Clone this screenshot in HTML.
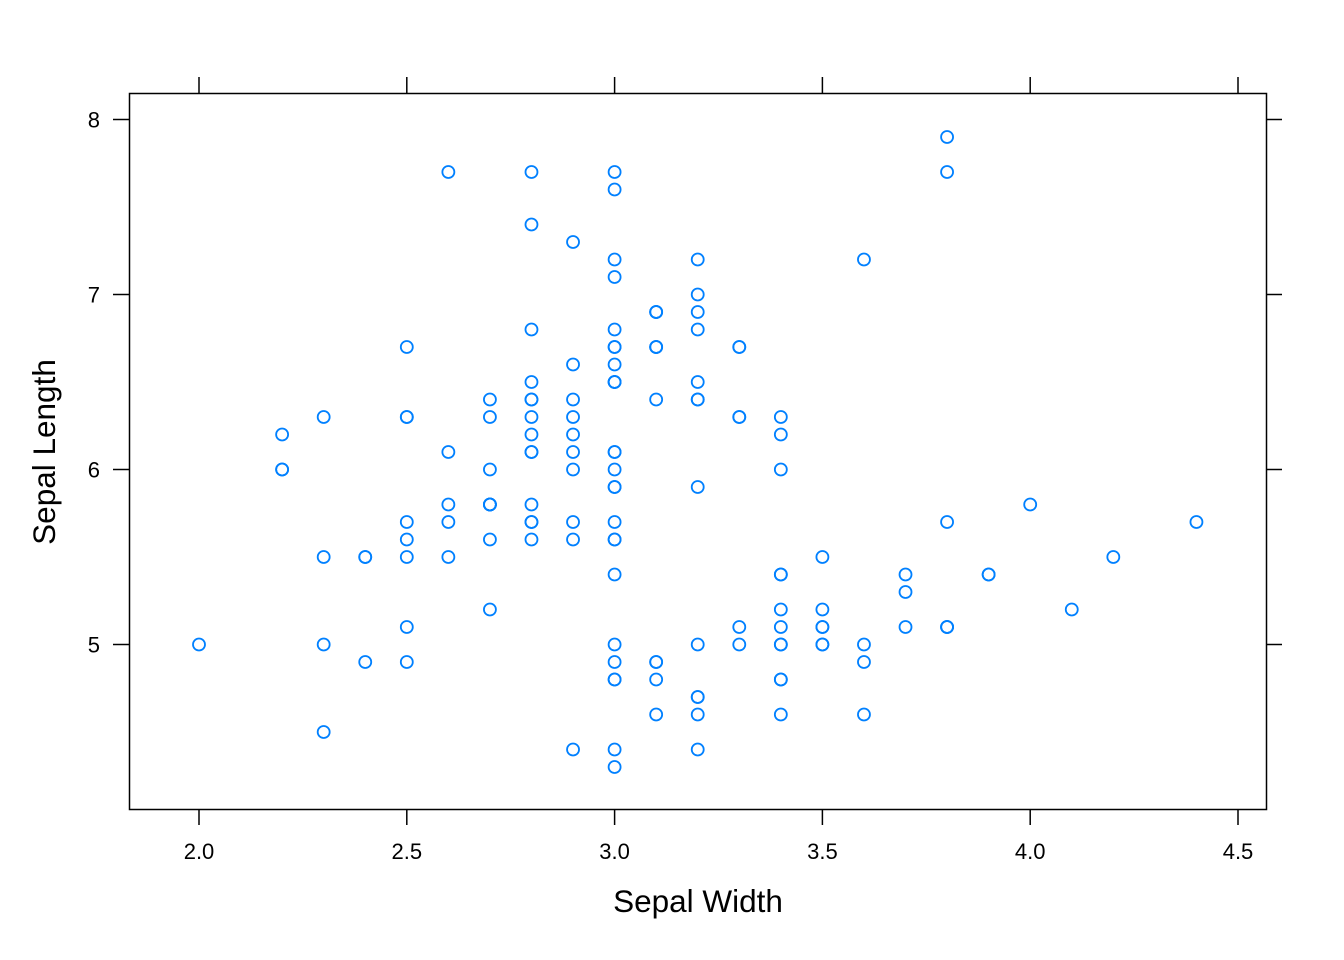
<!DOCTYPE html>
<html><head><meta charset="utf-8"><style>
html,body{margin:0;padding:0;background:#fff}
svg{display:block;font-family:"Liberation Sans",Arial,sans-serif}
</style></head><body>
<svg id="chart" width="1344" height="960" viewBox="0 0 1344 960">
<rect x="129.5" y="93.5" width="1137" height="716" fill="none" stroke="#000" stroke-width="1.5"/>
<g id="axes"></g>
<g id="points"></g>
<text x="698" y="912" font-size="31.5" text-anchor="middle">Sepal Width</text>
<text transform="translate(55,452) rotate(-90)" font-size="31.5" text-anchor="middle">Sepal Length</text>
</svg>
<script>
const sepalWidth=[3.5,3.0,3.2,3.1,3.6,3.9,3.4,3.4,2.9,3.1,3.7,3.4,3.0,3.0,4.0,4.4,3.9,3.5,3.8,3.8,3.4,3.7,3.6,3.3,3.4,3.0,3.4,3.5,3.4,3.2,3.1,3.4,4.1,4.2,3.1,3.2,3.5,3.6,3.0,3.4,3.5,2.3,3.2,3.5,3.8,3.0,3.8,3.2,3.7,3.3,
3.2,3.2,3.1,2.3,2.8,2.8,3.3,2.4,2.9,2.7,2.0,3.0,2.2,2.9,2.9,3.1,3.0,2.7,2.2,2.5,3.2,2.8,2.5,2.8,2.9,3.0,2.8,3.0,2.9,2.6,2.4,2.4,2.7,2.7,3.0,3.4,3.1,2.3,3.0,2.5,2.6,3.0,2.6,2.3,2.7,3.0,2.9,2.9,2.5,2.8,
3.3,2.7,3.0,2.9,3.0,3.0,2.5,2.9,2.5,3.6,3.2,2.7,3.0,2.5,2.8,3.2,3.0,3.8,2.6,2.2,3.2,2.8,2.8,2.7,3.3,3.2,2.8,3.0,2.8,3.0,2.8,3.8,2.8,2.8,2.6,3.0,3.4,3.1,3.0,3.1,3.1,3.1,2.7,3.2,3.3,3.0,2.5,3.0,3.4,3.0];
const sepalLength=[5.1,4.9,4.7,4.6,5.0,5.4,4.6,5.0,4.4,4.9,5.4,4.8,4.8,4.3,5.8,5.7,5.4,5.1,5.7,5.1,5.4,5.1,4.6,5.1,4.8,5.0,5.0,5.2,5.2,4.7,4.8,5.4,5.2,5.5,4.9,5.0,5.5,4.9,4.4,5.1,5.0,4.5,4.4,5.0,5.1,4.8,5.1,4.6,5.3,5.0,
7.0,6.4,6.9,5.5,6.5,5.7,6.3,4.9,6.6,5.2,5.0,5.9,6.0,6.1,5.6,6.7,5.6,5.8,6.2,5.6,5.9,6.1,6.3,6.1,6.4,6.6,6.8,6.7,6.0,5.7,5.5,5.5,5.8,6.0,5.4,6.0,6.7,6.3,5.6,5.5,5.5,6.1,5.8,5.0,5.6,5.7,5.7,6.2,5.1,5.7,
6.3,5.8,7.1,6.3,6.5,7.6,4.9,7.3,6.7,7.2,6.5,6.4,6.8,5.7,5.8,6.4,6.5,7.7,7.7,6.0,6.9,5.6,7.7,6.3,6.7,7.2,6.2,6.1,6.4,7.2,7.4,7.9,6.4,6.3,6.1,7.7,6.3,6.4,6.0,6.9,6.7,6.9,5.8,6.8,6.7,6.7,6.3,6.5,6.2,5.9];
const xTicks=[2.0,2.5,3.0,3.5,4.0,4.5];
const xTickLabels=["2.0","2.5","3.0","3.5","4.0","4.5"];
const yTicks=[5,6,7,8];
const yTickLabels=["5","6","7","8"];
const NS="http://www.w3.org/2000/svg";
function xs(v){return 199+(v-2.0)*415.6;}
function ys(v){return 644.5-(v-5)*175;}
function mk(tag,attrs,parent){const e=document.createElementNS(NS,tag);for(const k in attrs)e.setAttribute(k,attrs[k]);parent.appendChild(e);return e;}
const axes=document.getElementById('axes');
xTicks.forEach((t,i)=>{
  const x=xs(t);
  const a=mk('line',{x1:x,x2:x,y1:77,y2:93,stroke:'#000','stroke-width':1.5},axes);
  
  
  const b=mk('line',{x1:x,x2:x,y1:809,y2:825,stroke:'#000','stroke-width':1.5},axes);
  
  
  const l=mk('text',{x:x,y:859,'font-size':22,'text-anchor':'middle'},axes);
  l.textContent=xTickLabels[i];
  
  
});
yTicks.forEach((t,i)=>{
  const y=ys(t);
  const a=mk('line',{x1:113,x2:129,y1:y,y2:y,stroke:'#000','stroke-width':1.5},axes);
  
  
  const b=mk('line',{x1:1266,x2:1282,y1:y,y2:y,stroke:'#000','stroke-width':1.5},axes);
  
  
  const l=mk('text',{x:100,y:y+8,'font-size':22,'text-anchor':'end'},axes);
  l.textContent=yTickLabels[i];
  
  
});
const pts=document.getElementById('points');
sepalWidth.forEach((w,i)=>{
  const c=mk('circle',{cx:xs(w),cy:ys(sepalLength[i]),r:6,fill:'none',stroke:'#0080ff','stroke-width':1.8},pts);
  
  
});
</script>
</body></html>
